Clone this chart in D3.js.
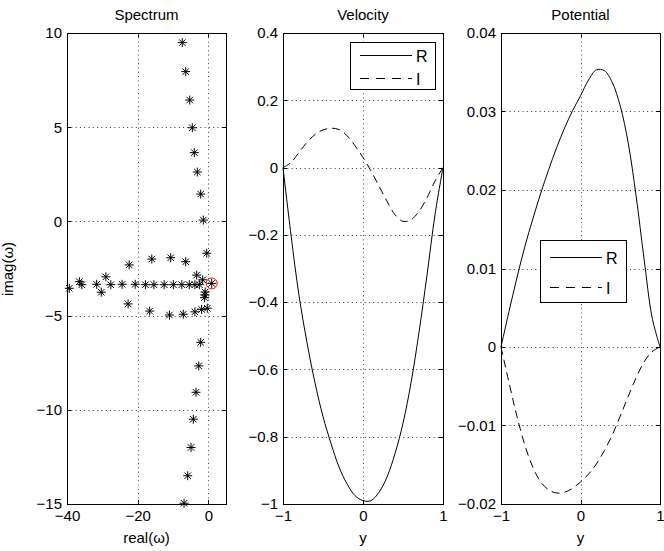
<!DOCTYPE html>
<html>
<head>
<meta charset="utf-8">
<script src="https://cdn.jsdelivr.net/npm/d3@7"></script>
<style>
  body { margin: 0; background: #fff; }
  text { font-family: "Liberation Sans", Arial, sans-serif; fill: #000; }
</style>
</head>
<body>
<script>
// spectrum eigenvalues [real, imag]
var eigReal = [-7.37, -6.4, -5.27, -4.53, -3.97, -3.12, -2.16, -1.42, -0.46,
  -2.16, -2.72, -3.49, -4.25, -4.9, -5.84, -6.88,
  -39.35, -36.5, -35.8, -31.6, -30.3, -29.0, -27.6, -24.4, -20.7, -17.8, -15.4, -12.5, -9.9, -7.5, -5.4, -3.8, -2.55, -1.6,
  -22.4, -16.0, -10.65, -6.4, -3.3,
  -22.7, -16.6, -11.0, -7.1, -3.8, -1.9, -0.3,
  -0.9, -1.0, -1.1, 0.96];
var eigImag = [9.49, 7.95, 6.44, 4.97, 3.65, 2.62, 1.45, 0.07, -1.69,
  -6.42, -7.67, -9.07, -10.5, -12.0, -13.5, -14.96,
  -3.55, -3.2, -3.36, -3.34, -3.76, -2.94, -3.36, -3.34, -3.34, -3.36, -3.36, -3.36, -3.36, -3.36, -3.36, -3.36, -3.36, -3.1,
  -2.31, -2.0, -1.93, -2.14, -2.85,
  -4.38, -4.76, -4.97, -4.93, -4.8, -4.67, -4.61,
  -3.75, -3.9, -4.05, -3.29];
var selected = [0.96, -3.29];

var yGrid = [-1, -0.9, -0.8, -0.7, -0.6, -0.5, -0.4, -0.3, -0.2, -0.1, 0,
  0.1, 0.2, 0.3, 0.4, 0.5, 0.6, 0.7, 0.8, 0.9, 1];
var velR = [0, -0.2, -0.38, -0.52, -0.64, -0.74, -0.82, -0.89, -0.94, -0.975, -0.99,
  -0.99, -0.965, -0.92, -0.85, -0.76, -0.64, -0.49, -0.32, -0.14, 0];
var velI = [0, 0.015, 0.045, 0.075, 0.098, 0.112, 0.117, 0.113, 0.095, 0.065, 0.03,
  -0.01, -0.055, -0.1, -0.14, -0.16, -0.155, -0.13, -0.09, -0.04, 0];
var potR = [0, 0.0045, 0.0088, 0.0128, 0.0163, 0.0196, 0.0226, 0.0254, 0.0279, 0.0301, 0.032,
  0.034, 0.0353, 0.0352, 0.0337, 0.0307, 0.026, 0.0192, 0.0112, 0.0038, 0];
var potI = [0, -0.0045, -0.0088, -0.0125, -0.0153, -0.0172, -0.0182, -0.0186, -0.0185, -0.018, -0.0172,
  -0.0162, -0.0149, -0.0132, -0.0112, -0.0088, -0.0063, -0.0039, -0.0019, -0.0006, 0];

var specXTicks = [-40, -20, 0];
var specYTicks = [10, 5, 0, -5, -10, -15];
var yTicks = [-1, 0, 1];
var velTicks = [0.4, 0.2, 0, -0.2, -0.4, -0.6, -0.8, -1];
var potTicks = [0.04, 0.03, 0.02, 0.01, 0, -0.01, -0.02];

var width = 664, height = 551;
var plotTop = 33, plotBottom = 504;
var tickFont = '15px', labelFont = '15px';

var svg = d3.select('body').append('svg')
  .attr('width', width)
  .attr('height', height);

function fmt(v) {
  return String(v).replace('-', '\u2212');
}

function panel(opt) {
  var x = d3.scaleLinear().domain(opt.xd).range([opt.left, opt.right]);
  var y = d3.scaleLinear().domain(opt.yd).range([plotBottom, plotTop]);
  var g = svg.append('g');

  // grid
  g.selectAll('.gx').data(opt.xt).enter().append('line')
    .attr('x1', d => Math.round(x(d)) + 0.5).attr('x2', d => Math.round(x(d)) + 0.5)
    .attr('y1', plotTop).attr('y2', plotBottom)
    .attr('stroke', '#444').attr('stroke-dasharray', '1,3.3');
  g.selectAll('.gy').data(opt.yt).enter().append('line')
    .attr('y1', d => Math.round(y(d)) + 0.5).attr('y2', d => Math.round(y(d)) + 0.5)
    .attr('x1', opt.left).attr('x2', opt.right)
    .attr('stroke', '#333').attr('stroke-dasharray', '1,3.3');

  // axes
  var ax = d3.axisBottom(x).tickValues(opt.xt).tickSize(0).tickPadding(6).tickFormat(fmt);
  var ay = d3.axisLeft(y).tickValues(opt.yt).tickSize(0).tickPadding(5).tickFormat(fmt);
  var gx = g.append('g').attr('transform', 'translate(0,' + plotBottom + ')').call(ax);
  var gy = g.append('g').attr('transform', 'translate(' + opt.left + ',0)').call(ay);
  [gx, gy].forEach(function(a) {
    a.select('.domain').remove();
    a.selectAll('text').style('font-size', tickFont)
      .style('font-family', '"Liberation Sans", Arial, sans-serif');
  });

  // tick marks inside, on all four sides
  opt.xt.forEach(function(t) {
    var px = Math.round(x(t)) + 0.5;
    g.append('line').attr('x1', px).attr('x2', px).attr('y1', plotBottom).attr('y2', plotBottom - 4).attr('stroke', '#000');
    g.append('line').attr('x1', px).attr('x2', px).attr('y1', plotTop).attr('y2', plotTop + 4).attr('stroke', '#000');
  });
  opt.yt.forEach(function(t) {
    var py = Math.round(y(t)) + 0.5;
    g.append('line').attr('y1', py).attr('y2', py).attr('x1', opt.left).attr('x2', opt.left + 4).attr('stroke', '#000');
    g.append('line').attr('y1', py).attr('y2', py).attr('x1', opt.right).attr('x2', opt.right - 4).attr('stroke', '#000');
  });

  g.append('rect')
    .attr('x', opt.left + 0.5).attr('y', plotTop + 0.5)
    .attr('width', opt.right - opt.left).attr('height', plotBottom - plotTop)
    .attr('fill', 'none').attr('stroke', '#000');

  g.append('text').attr('x', (opt.left + opt.right) / 2).attr('y', 20)
    .attr('text-anchor', 'middle').style('font-size', labelFont).text(opt.title);
  g.append('text').attr('x', (opt.left + opt.right) / 2).attr('y', 543)
    .attr('text-anchor', 'middle').style('font-size', labelFont).text(opt.xlabel);

  return { x: x, y: y, g: g };
}

// Spectrum
var p1 = panel({ left: 67, right: 226, xd: [-40, 5], yd: [-15, 10],
  xt: specXTicks, yt: specYTicks, title: 'Spectrum', xlabel: 'real(\u03c9)' });
svg.append('text')
  .attr('transform', 'translate(13,269) rotate(-90)')
  .attr('text-anchor', 'middle').style('font-size', labelFont)
  .text('imag(\u03c9)');

var eig = eigReal.map((r, i) => [r, eigImag[i]]);
var s = 4.5, sd = s * 0.72;
p1.g.selectAll('path.star').data(eig).enter().append('path')
  .attr('class', 'star')
  .attr('transform', d => 'translate(' + p1.x(d[0]) + ',' + p1.y(d[1]) + ')')
  .attr('d', 'M' + (-s) + ',0H' + s + 'M0,' + (-s) + 'V' + s +
    'M' + (-sd) + ',' + (-sd) + 'L' + sd + ',' + sd +
    'M' + (-sd) + ',' + sd + 'L' + sd + ',' + (-sd))
  .attr('stroke', '#000').attr('stroke-width', 1).attr('fill', 'none');
p1.g.append('circle')
  .attr('cx', p1.x(selected[0])).attr('cy', p1.y(selected[1])).attr('r', 5.5)
  .attr('fill', 'none').attr('stroke', '#f00').attr('stroke-width', 1);

function curves(p, rs, is) {
  var line = d3.line().curve(d3.curveCatmullRom)
    .x((d, i) => p.x(yGrid[i])).y(d => p.y(d));
  p.g.append('path').datum(rs).attr('d', line)
    .attr('fill', 'none').attr('stroke', '#000').attr('stroke-width', 1);
  p.g.append('path').datum(is).attr('d', line)
    .attr('fill', 'none').attr('stroke', '#000').attr('stroke-width', 1)
    .attr('stroke-dasharray', '8,5');
}

function legend(p, x0, y0, w, h) {
  var g = p.g.append('g');
  g.append('rect').attr('x', x0 + 0.5).attr('y', y0 + 0.5).attr('width', w).attr('height', h)
    .attr('fill', '#fff').attr('stroke', '#000');
  var names = ['R', 'I'];
  names.forEach(function(n, i) {
    var ly = Math.round(y0 + h * (i === 0 ? 0.27 : 0.76)) + 0.5;
    g.append('line').attr('x1', x0 + 10).attr('x2', x0 + 62).attr('y1', ly).attr('y2', ly)
      .attr('stroke', '#000').attr('stroke-dasharray', i ? '9,7' : null);
    g.append('text').attr('x', x0 + 66).attr('y', ly + 6).style('font-size', '16px').text(n);
  });
}

// Velocity
var p2 = panel({ left: 283, right: 443, xd: [-1, 1], yd: [-1, 0.4],
  xt: yTicks, yt: velTicks, title: 'Velocity', xlabel: 'y' });
curves(p2, velR, velI);
legend(p2, 350, 42, 85, 47);

// Potential
var p3 = panel({ left: 501, right: 660, xd: [-1, 1], yd: [-0.02, 0.04],
  xt: yTicks, yt: potTicks, title: 'Potential', xlabel: 'y' });
curves(p3, potR, potI);
legend(p3, 540, 240, 86, 62);
</script>
</body>
</html>
